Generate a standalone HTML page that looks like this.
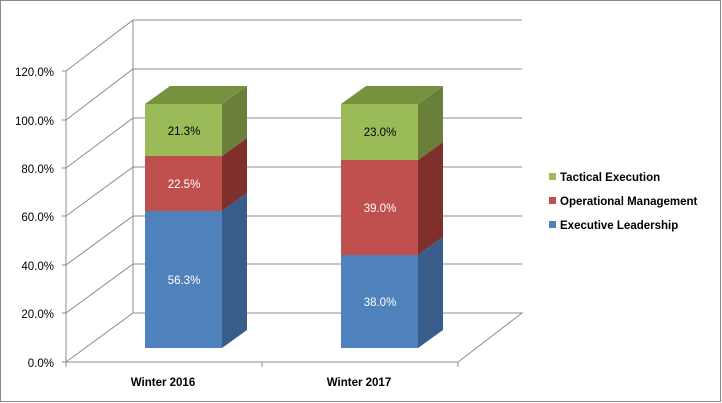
<!DOCTYPE html><html><head><style>body{margin:0;background:#fff}svg{display:block}text{font-family:"Liberation Sans",sans-serif;font-size:11.5px}</style></head><body>
<svg width="722" height="403" viewBox="0 0 722 403">
<rect x="0.5" y="0.5" width="720" height="401" fill="#fff" stroke="#888"/>
<g stroke="#8c8c8c" stroke-width="1" fill="none">
<line x1="133" y1="20" x2="133" y2="313"/>
<path d="M66 71L133 20H522M66 120L133 69H522M66 168L133 118H522M66 216L133 167H522M66 265L133 216H522M66 313L133 264H522M66 362L133 313H522L458 362H66"/>
<line x1="66" y1="71" x2="66" y2="362"/>
<path d="M62 71H66M62 120H66M62 168H66M62 216H66M62 265H66M62 313H66M62 362H66M66 362V367M262 362V367M458 362V367"/>
</g>
<g fill="#000" text-anchor="end">
<text x="54" y="76">120.0%</text><text x="54" y="125">100.0%</text><text x="54" y="173">80.0%</text><text x="54" y="221">60.0%</text><text x="54" y="270">40.0%</text><text x="54" y="318">20.0%</text><text x="54" y="367">0.0%</text>
</g>
<rect x="145" y="211" width="77" height="137" fill="#4f81bd"/>
<polygon points="222,211 247,193 247,330 222,348" fill="#385d8a"/>
<rect x="145" y="156" width="77" height="55" fill="#c0504d"/>
<polygon points="222,156 247,138 247,193 222,211" fill="#7f302d"/>
<rect x="145" y="104" width="77" height="52" fill="#9bbb59"/>
<polygon points="222,104 247,86 247,138 222,156" fill="#6a7f3a"/>
<polygon points="145,104 170,86 247,86 222,104" fill="#77923f"/>
<rect x="341" y="255" width="77" height="93" fill="#4f81bd"/>
<polygon points="418,255 443,237 443,330 418,348" fill="#385d8a"/>
<rect x="341" y="160" width="77" height="95" fill="#c0504d"/>
<polygon points="418,160 443,142 443,237 418,255" fill="#7f302d"/>
<rect x="341" y="104" width="77" height="56" fill="#9bbb59"/>
<polygon points="418,104 443,86 443,142 418,160" fill="#6a7f3a"/>
<polygon points="341,104 366,86 443,86 418,104" fill="#77923f"/>
<g text-anchor="middle">
<text x="184" y="135">21.3%</text><text x="184" y="188" fill="#fff">22.5%</text><text x="184" y="284" fill="#fff">56.3%</text>
<text x="380" y="136">23.0%</text><text x="380" y="212" fill="#fff">39.0%</text><text x="380" y="306" fill="#fff">38.0%</text>
<text x="163" y="386" font-weight="bold">Winter 2016</text><text x="359" y="386" font-weight="bold">Winter 2017</text>
</g>
<g font-size="12" font-weight="bold">
<rect x="549" y="173" width="7" height="7" fill="#9bbb59"/><text x="560" y="181">Tactical Execution</text>
<rect x="549" y="197" width="7" height="7" fill="#c0504d"/><text x="560" y="205">Operational Management</text>
<rect x="549" y="221" width="7" height="7" fill="#4f81bd"/><text x="560" y="229">Executive Leadership</text>
</g>
</svg></body></html>
